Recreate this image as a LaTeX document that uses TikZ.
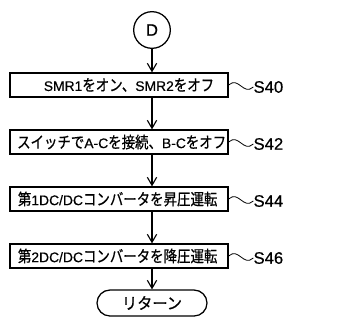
\documentclass[tikz,border=0pt]{standalone}
\usepackage{fontspec}
\setmainfont{Noto Sans CJK JP}[FakeStretch=0.84,FakeBold=0.6]
\newfontfamily\termfont{Noto Sans CJK JP}[FakeStretch=0.95,FakeBold=0.6]
\newfontfamily\labfont{Liberation Sans}[FakeBold=0.5]
\newcommand\latn[1]{{\labfont\fontsize{10.4}{12}\selectfont #1}}
\usetikzlibrary{arrows.meta,shapes.misc}
\begin{document}
\begin{tikzpicture}[x=0.75pt,y=-0.75pt,
  stepbox/.style={draw,line width=0.95pt,minimum width=163.5pt,minimum height=18pt,inner sep=0pt,font=\fontsize{12}{14}\selectfont},
  conn/.style={draw,circle,line width=0.95pt,minimum size=27.5pt,inner sep=0pt,font=\labfont\fontsize{12.5}{14}\selectfont},
  term/.style={draw,rounded rectangle,line width=0.95pt,minimum width=82.5pt,minimum height=19.5pt,inner sep=0pt,font=\termfont\fontsize{12}{14}\selectfont},
  flow/.style={line width=0.85pt,-{Straight Barb[length=6pt,width=7pt,line width=0.85pt]}},
  steplab/.style={font=\labfont\fontsize{12.5}{14}\selectfont,inner sep=0pt,anchor=west},
  wave/.style={line width=0.6pt}]
\useasboundingbox (0,0) rectangle (357,333);
\node[conn] (D) at (152,30) {D};
\node[stepbox] (s40) at (119,85) {\hspace*{15pt}\latn{SMR1}をオン、\latn{SMR2}をオフ};
\node[stepbox] (s42) at (119,142) {\hspace*{4pt}スイッチで\latn{A-C}を接続、\latn{B-C}をオフ};
\node[stepbox] (s44) at (119,199) {第\latn{1DC/DC}コンバータを昇圧運転\hspace*{2pt}};
\node[stepbox] (s46) at (119,256) {第\latn{2DC/DC}コンバータを降圧運転\hspace*{2pt}};
\node[term] (ret) at (152,303) {リターン};
\draw[flow] (D.south) -- (D.south |- s40.north);
\draw[flow] (D.south |- s40.south) -- (D.south |- s42.north);
\draw[flow] (D.south |- s42.south) -- (D.south |- s44.north);
\draw[flow] (D.south |- s44.south) -- (D.south |- s46.north);
\draw[flow] (D.south |- s46.south) -- (ret.north);
\foreach \s/\t in {s40/S40,s42/S42,s44/S44,s46/S46}{
  \node[steplab] (l\s) at ([xshift=18.5pt,yshift=-1.5pt]\s.east) {\t};
  \draw[wave] (\s.east) .. controls +(10,-9) and +(-10,9) .. (l\s.west);
}
\end{tikzpicture}
\end{document}
